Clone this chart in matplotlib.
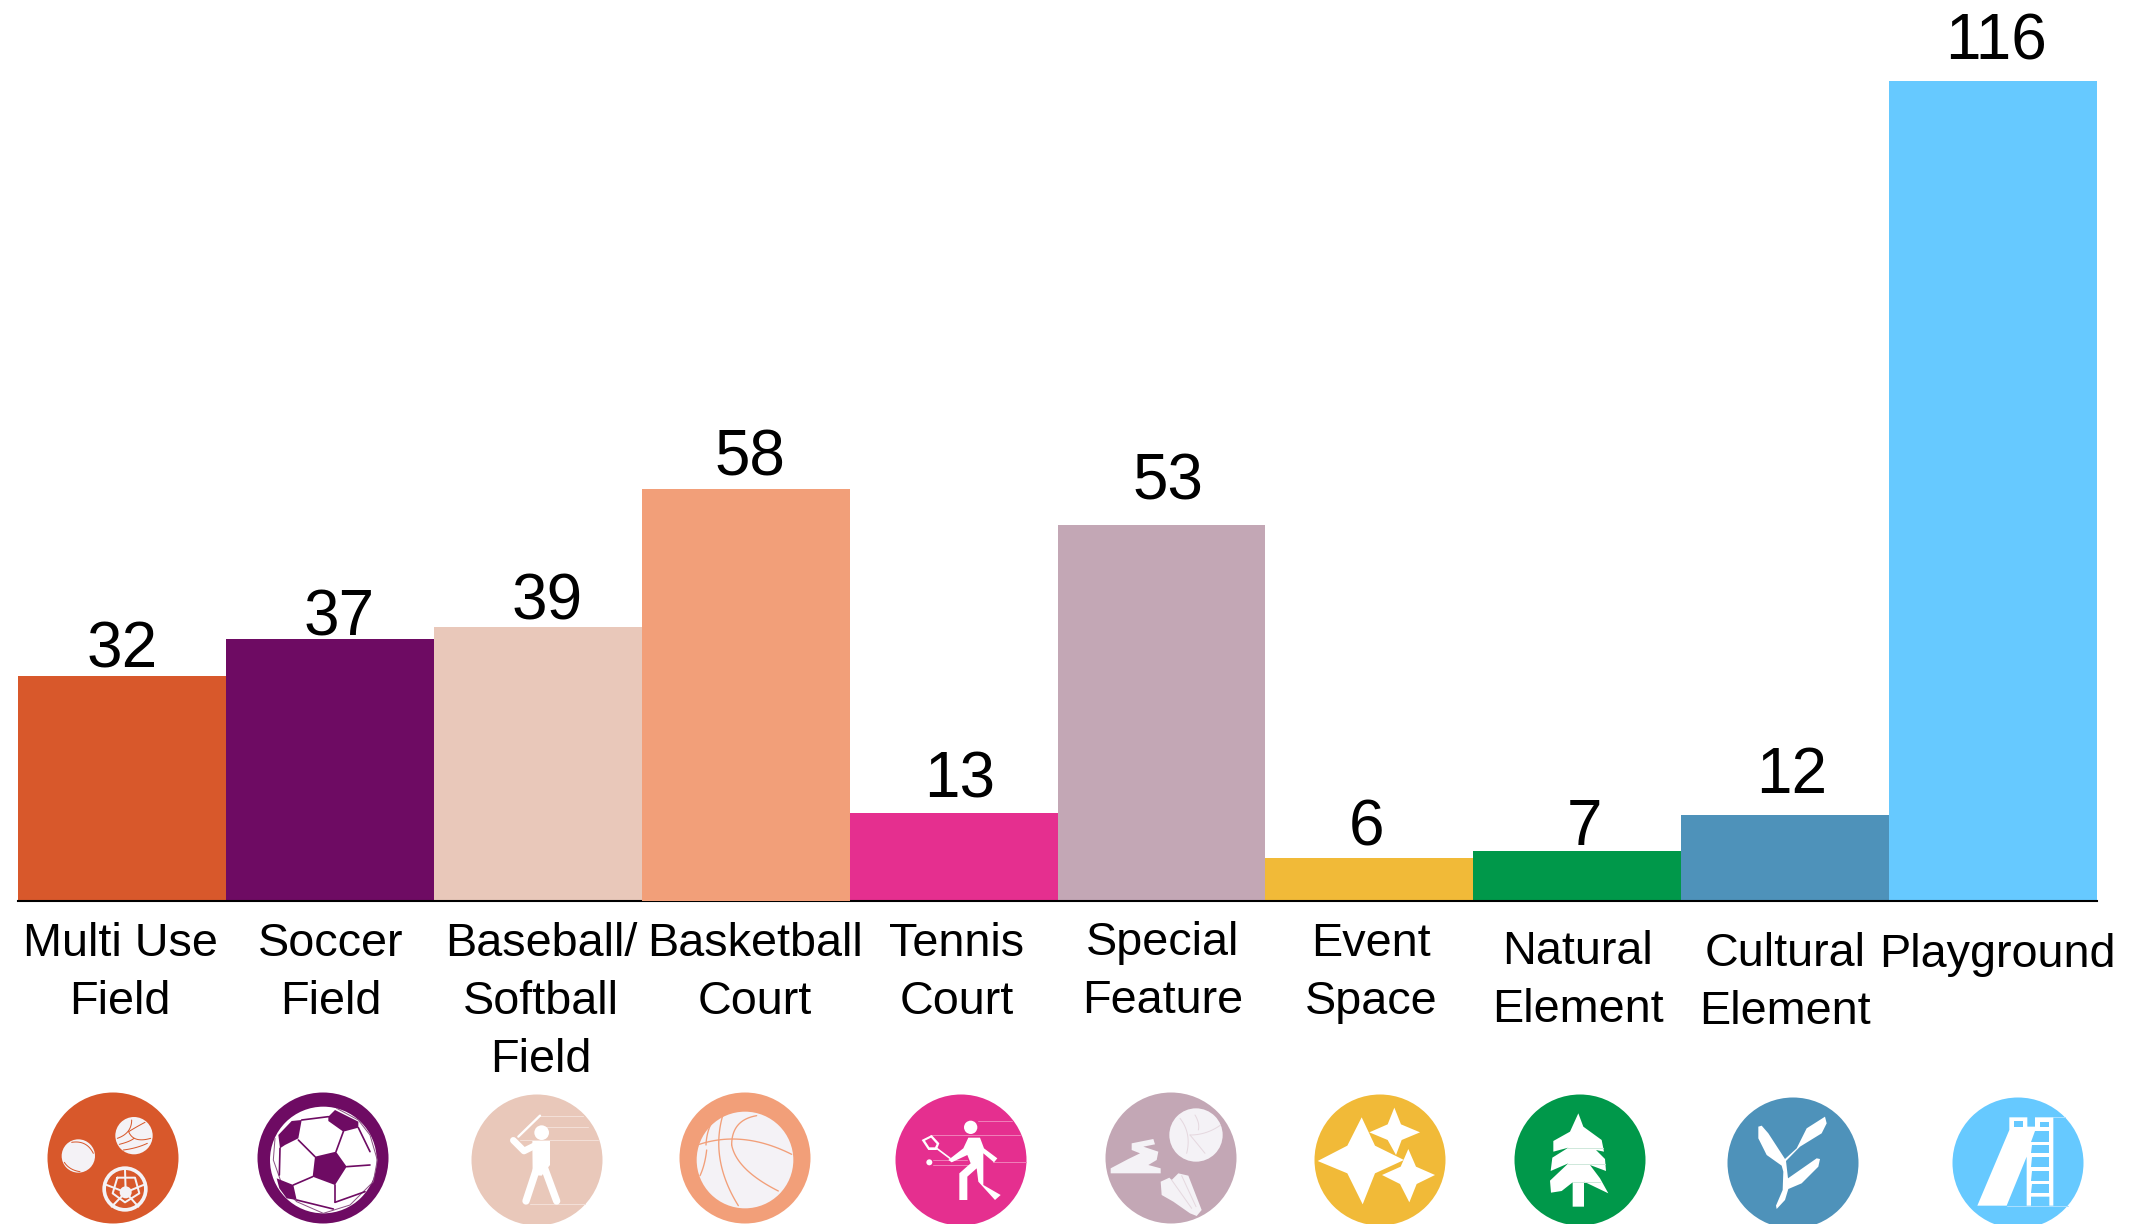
import matplotlib
matplotlib.use("Agg")
import numpy as np
from matplotlib import pyplot as plt
from matplotlib.patches import Circle, Polygon

plt.rcParams["font.family"] = ["Liberation Sans", "DejaVu Sans"]

categories = ["Multi Use\nField", "Soccer\nField", "Baseball/\nSoftball\nField", "Basketball\nCourt",
              "Tennis\nCourt", "Special\nFeature", "Event\nSpace", "Natural\nElement",
              "Cultural\nElement", "Playground"]
values = [32, 37, 39, 58, 13, 53, 6, 7, 12, 116]
# bar heights as drawn in the picture, they differ a little from the printed numbers
bar_heights = [31.8, 37, 38.8, 58.3, 12.4, 53.2, 6.1, 7.1, 12.2, 116]
colors = ["#D8582B", "#6E0B63", "#E9C8BA", "#F29F79", "#E52F8F",
          "#C3A7B5", "#F1BA38", "#00984A", "#4E92BA", "#66C9FF"]

# label placement, in pixels of the 2135x1224 picture
value_x = [122, 339, 547, 750, 960, 1168, 1366, 1585, 1792, 1996]
value_y = [667, 635, 620, 476, 797, 500, 845, 845, 793, 60]
label_x = [120, 331, 541, 755, 957, 1163, 1371, 1578, 1785, 1997]
label_y = [956, 956, 956, 956, 956, 955, 956, 964, 966, 967]
icon_x = [113, 323, 537, 745, 961, 1171, 1380, 1580, 1793, 2018]
icon_y = [1158, 1158, 1160, 1158, 1160, 1158, 1160, 1160, 1163, 1163]
icon_r = 65.5
off_white = "#F4F2F6"

W, H = 2135, 1224
fig = plt.figure(figsize=(W / 100, H / 100), dpi=100)

ax = fig.add_axes([18 / W, 1 - 901 / H, (2097 - 18) / W, 820 / H])
bars = ax.bar(range(len(bar_heights)), bar_heights, width=1.0, color=colors, linewidth=0, zorder=2)
bars[3].set_zorder(4)
ax.axhline(0, color="black", lw=1.5, zorder=3, clip_on=False)
ax.set_xlim(-0.5, len(bar_heights) - 0.5)
ax.set_ylim(0, 116)
ax.axis("off")

# overlay in picture pixels for the labels and the icons
ov = fig.add_axes([0, 0, 1, 1])
ov.set_xlim(0, W)
ov.set_ylim(H, 0)
ov.axis("off")

for v, x, y in zip(values, value_x, value_y):
    ov.text(x, y, str(v), fontsize=46, ha="center", va="baseline", color="black")

for name, x, y in zip(categories, label_x, label_y):
    for i, part in enumerate(name.split("\n")):
        ov.text(x, y + i * 58, part, fontsize=33.7, ha="center", va="baseline", color="black")

for c, x, y in zip(colors, icon_x, icon_y):
    ov.add_patch(Circle((x, y), icon_r, fc=c, ec="none", zorder=5))


def pts(ox, p):
    return [(ox + a / 3, 1085 + b / 3) for a, b in p]


def poly(ox, p, c="white", z=6):
    ov.add_patch(Polygon(pts(ox, p), closed=True, fc=c, ec="none", zorder=z))


def line(ox, p, c="white", w=6, z=7):
    q = pts(ox, p)
    ov.plot([a for a, b in q], [b for a, b in q], color=c, lw=w / 3 * 0.72, zorder=z,
            solid_capstyle="round", solid_joinstyle="round")


def curve(ox, p0, p1, p2, c="white", w=4, z=7):
    t = np.linspace(0, 1, 30)
    x = (1 - t) ** 2 * p0[0] + 2 * t * (1 - t) * p1[0] + t ** 2 * p2[0]
    y = (1 - t) ** 2 * p0[1] + 2 * t * (1 - t) * p1[1] + t ** 2 * p2[1]
    line(ox, list(zip(x, y)), c, w, z)


def disc(ox, x, y, r, c="white", z=6):
    ov.add_patch(Circle((ox + x / 3, 1085 + y / 3), r / 3, fc=c, ec="none", zorder=z))


# multi use field
o = 30
or_ = colors[0]
disc(o, 145, 213, 50, off_white)
curve(o, (103, 232), (118, 255), (150, 260), or_, 3)
curve(o, (125, 172), (170, 165), (190, 205), or_, 3)
disc(o, 312, 152, 56, off_white)
curve(o, (305, 105), (305, 145), (262, 160), or_, 3)
curve(o, (296, 140), (320, 125), (345, 112), or_, 3)
curve(o, (296, 140), (310, 175), (362, 160), or_, 3)
curve(o, (280, 195), (320, 190), (352, 175), or_, 3)
curve(o, (268, 178), (300, 170), (312, 160), or_, 3)
disc(o, 285, 312, 68, off_white)
disc(o, 285, 312, 57, or_, 6.2)
for a, b in [(285, 252), (345, 298), (325, 365), (245, 365), (225, 298)]:
    line(o, [(287, 322), (a, b)], off_white, 6, 6.5)
line(o, [(262, 278), (315, 278), (328, 325), (285, 352), (248, 325), (262, 278)], off_white, 6, 6.5)
disc(o, 287, 322, 18, off_white, 7)

# soccer field
o = 30
pur = colors[1]
disc(o, 880, 225, 160, "white")
line(o, [(735, 160), (730, 225), (760, 310), (800, 350), (880, 385), (960, 360), (1030, 290), (1042, 225),
         (1020, 150), (985, 105), (920, 70)], "#8C5585", 3)
poly(o, [(855, 215), (918, 200), (950, 245), (915, 300), (848, 275)], pur, 7)
poly(o, [(895, 95), (915, 75), (985, 110), (985, 128), (940, 140), (895, 108)], pur, 7)
poly(o, [(745, 150), (785, 108), (815, 105), (805, 160), (765, 180), (750, 190)], pur, 7)
poly(o, [(740, 280), (790, 300), (800, 345), (770, 340), (748, 310)], pur, 7)
for seg in [[(815, 105), (895, 95)], [(805, 165), (855, 215)], [(750, 190), (748, 270)],
            [(940, 140), (918, 200)], [(950, 245), (1020, 240)], [(848, 275), (790, 300)],
            [(915, 300), (915, 350)], [(800, 345), (910, 372)], [(985, 128), (1020, 200)],
            [(915, 352), (1005, 320)]]:
    line(o, seg, pur, 5)

# baseball / softball field
o = 450
line(o, [(205, 155), (270, 92)], "white", 7)
disc(o, 275, 143, 22)
line(o, [(190, 166), (222, 198), (252, 183)], "white", 20)
poly(o, [(247, 168), (300, 168), (300, 240), (275, 272), (248, 270)])
line(o, [(262, 245), (228, 348)], "white", 22)
line(o, [(282, 245), (320, 348)], "white", 22)
for a, b, c in [(270, 92, 400), (285, 125, 415), (210, 165, 445), (240, 358, 405)]:
    line(o, [(a, b), (c, b)], "#F3DFD7", 3, 5.5)

# basketball court
o = 450
bk = colors[3]
disc(o, 885, 225, 145, off_white)
curve(o, (748, 178), (880, 135), (1025, 208), bk, 4)
curve(o, (920, 92), (845, 105), (845, 180), bk, 4)
curve(o, (845, 180), (860, 255), (985, 318), bk, 4)
curve(o, (818, 92), (780, 225), (865, 362), bk, 4)
curve(o, (790, 105), (770, 135), (768, 180), bk, 4)
curve(o, (770, 195), (765, 240), (750, 272), bk, 4)

# tennis court
o = 880
disc(o, 272, 127, 20)
poly(o, [(265, 158), (300, 158), (312, 190), (352, 220), (342, 232), (310, 205), (310, 300), (362, 330),
         (345, 345), (295, 290), (290, 250), (262, 275), (262, 345), (238, 345), (238, 265), (272, 235),
         (262, 210), (215, 232), (205, 225), (250, 190)])
poly(o, [(125, 165), (155, 150), (178, 175), (170, 195), (145, 195)], "white", 6)
poly(o, [(135, 167), (153, 158), (170, 177), (165, 187), (148, 187)], colors[4], 7)
line(o, [(170, 190), (210, 220)], "white", 5)
disc(o, 148, 232, 9)
for a, b, c in [(295, 108, 395), (150, 150, 420), (160, 225, 260), (160, 240, 265), (340, 230, 438)]:
    line(o, [(a, b), (c, b)], "#EF7DB8", 3, 5.5)

# special feature
o = 1090
disc(o, 318, 150, 80, off_white)
curve(o, (270, 100), (305, 145), (290, 205), "#E5D8DF", 3)
curve(o, (300, 150), (350, 150), (392, 120), "#E5D8DF", 3)
curve(o, (300, 150), (325, 180), (345, 205), "#E5D8DF", 3)
curve(o, (315, 90), (330, 115), (325, 135), "#E5D8DF", 3)
poly(o, [(62, 265), (62, 250), (115, 222), (150, 205), (125, 195), (125, 175), (190, 162), (195, 178),
         (160, 185), (205, 200), (200, 225), (175, 240), (212, 250), (212, 265)], off_white)
poly(o, [(215, 330), (212, 290), (238, 278), (245, 285), (265, 265), (295, 272), (335, 375), (320, 393),
         (300, 385), (250, 350)], off_white)
line(o, [(245, 285), (305, 370)], "#E5D8DF", 3, 7)
line(o, [(275, 272), (318, 365)], "#E5D8DF", 3, 7)

# event space
o = 1090
poly(o, [(815, 97), (855, 182), (942, 225), (855, 265), (818, 358), (772, 265), (683, 228), (772, 182)])
poly(o, [(913, 68), (933, 118), (990, 142), (935, 165), (918, 210), (893, 165), (838, 142), (893, 118)])
poly(o, [(955, 192), (978, 245), (1035, 270), (980, 297), (958, 352), (930, 297), (876, 270), (932, 245)])

# natural element
o = 1500
poly(o, [(235, 85), (250, 125), (305, 165), (312, 200), (288, 195), (315, 222), (318, 258), (270, 240),
         (300, 280), (325, 325), (252, 290), (252, 365), (218, 365), (218, 292), (185, 318), (153, 323),
         (150, 287), (205, 235), (152, 258), (157, 218), (205, 188), (160, 200), (160, 168), (210, 140)])
for a, b, c in [(200, 188, 308), (205, 238, 315), (218, 290, 300)]:
    line(o, [(a, b), (c, b)], "#CFE8DB", 3, 7)

# cultural element
o = 1500
poly(o, [(775, 125), (785, 122), (805, 145), (855, 222), (890, 190), (905, 160), (920, 130), (975, 95),
         (980, 115), (965, 145), (900, 185), (858, 228), (864, 280), (950, 220), (960, 222), (955, 245),
         (905, 295), (865, 312), (855, 345), (830, 372), (828, 362), (848, 315), (850, 260), (845, 242),
         (800, 210), (775, 160)])

# playground
o = 1800
sky = colors[9]
poly(o, [(532, 362), (628, 135), (628, 97), (682, 97), (682, 125), (705, 125), (705, 97), (760, 97), (760, 362),
         (748, 362), (748, 335), (693, 335), (693, 362), (680, 362), (680, 215), (620, 362)])
for top, bot in [(138, 170), (180, 205), (216, 247), (258, 287), (297, 325)]:
    poly(o, [(695 if top > 138 else 705, top), (748, top), (748, bot), (693, bot)], sky, 7)
poly(o, [(642, 108), (668, 108), (668, 125), (642, 125)], sky, 7)
poly(o, [(720, 110), (746, 110), (746, 125), (720, 125)], sky, 7)
line(o, [(620, 362), (805, 362)], "#A8DEFF", 3, 5.5)
line(o, [(760, 97), (795, 97)], "#A8DEFF", 3, 5.5)

fig.savefig("out.png", dpi=100)
